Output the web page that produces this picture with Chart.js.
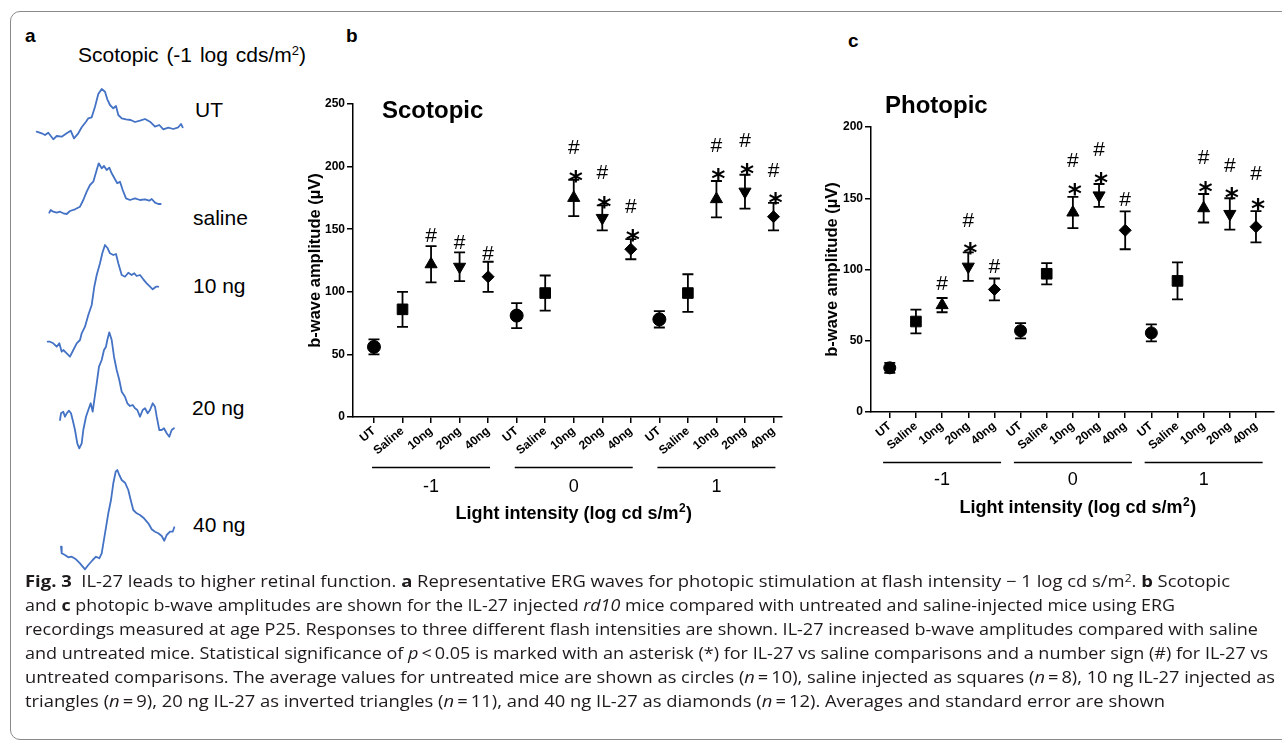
<!DOCTYPE html>
<html>
<head>
<meta charset="utf-8">
<script src="https://cdn.jsdelivr.net/npm/chart.js@4.4.1/dist/chart.umd.min.js"></script>
<style>
html,body{margin:0;padding:0;background:#fff;}
body{width:1282px;height:742px;position:relative;overflow:hidden;font-family:'Liberation Sans',Arial,sans-serif;color:#000;}
.frame{position:absolute;left:10px;top:11px;width:1300px;height:727px;border:1.5px solid #8a8a8a;border-radius:10px;}
.abs{position:absolute;white-space:nowrap;line-height:1;}
.lbl{font-size:21px;}
.pl{font-size:19px;font-weight:bold;}
.abs sup{font-size:0.62em;vertical-align:0.55em;line-height:0;}
canvas{position:absolute;}
.cap{position:absolute;left:25px;top:569px;font-family:'Open Sans',sans-serif;font-size:16px;line-height:24px;color:#1e1a1b;}
.row{height:24px;white-space:nowrap;}
.cl{display:inline-block;white-space:nowrap;transform-origin:0 0;}
.cap sup{font-size:0.65em;vertical-align:0.5em;line-height:0;}
</style>
</head>
<body>
<div class="frame"></div>

<div class="abs pl" style="left:25px;top:26px;">a</div>
<div class="abs pl" style="left:346px;top:26px;">b</div>
<div class="abs pl" style="left:848px;top:31px;">c</div>

<div class="abs lbl" style="left:78px;top:44px;word-spacing:2px;">Scotopic (-1 log cds/m<sup>2</sup>)</div>
<div class="abs lbl" style="left:195px;top:99px;">UT</div>
<div class="abs lbl" style="left:193px;top:207px;">saline</div>
<div class="abs lbl" style="left:193px;top:275px;">10 ng</div>
<div class="abs lbl" style="left:192px;top:397px;">20 ng</div>
<div class="abs lbl" style="left:193px;top:514px;">40 ng</div>

<canvas id="ergUT" width="160" height="65" style="left:30px;top:80px;"></canvas>
<canvas id="ergSaline" width="160" height="65" style="left:30px;top:155px;"></canvas>
<canvas id="erg10" width="160" height="130" style="left:30px;top:235px;"></canvas>
<canvas id="erg20" width="160" height="130" style="left:30px;top:325px;"></canvas>
<canvas id="erg40" width="160" height="115" style="left:30px;top:460px;"></canvas>

<canvas id="scot" width="490" height="445" style="left:300px;top:90px;"></canvas>
<canvas id="phot" width="464" height="445" style="left:818px;top:90px;"></canvas>

<div class="cap">
<div class="row"><span class="cl" data-w="1205"><b>Fig. 3</b>&nbsp; IL-27 leads to higher retinal function. <b>a</b> Representative ERG waves for photopic stimulation at flash intensity − 1 log cd s/m<sup>2</sup>. <b>b</b> Scotopic</span></div>
<div class="row"><span class="cl" data-w="1150">and <b>c</b> photopic b-wave amplitudes are shown for the IL-27 injected <i>rd10</i> mice compared with untreated and saline-injected mice using ERG</span></div>
<div class="row"><span class="cl" data-w="1233">recordings measured at age P25. Responses to three different flash intensities are shown. IL-27 increased b-wave amplitudes compared with saline</span></div>
<div class="row"><span class="cl" data-w="1243">and untreated mice. Statistical significance of <i>p</i>&thinsp;&lt;&thinsp;0.05 is marked with an asterisk (*) for IL-27 vs saline comparisons and a number sign (#) for IL-27 vs</span></div>
<div class="row"><span class="cl" data-w="1250">untreated comparisons. The average values for untreated mice are shown as circles (<i>n</i>&thinsp;=&thinsp;10), saline injected as squares (<i>n</i>&thinsp;=&thinsp;8), 10 ng IL-27 injected as</span></div>
<div class="row"><span class="cl" data-w="1140">triangles (<i>n</i>&thinsp;=&thinsp;9), 20 ng IL-27 as inverted triangles (<i>n</i>&thinsp;=&thinsp;11), and 40 ng IL-27 as diamonds (<i>n</i>&thinsp;=&thinsp;12). Averages and standard error are shown</span></div>
</div>

<script>
// ---------- DATA ----------
const categories = ['UT','Saline','10ng','20ng','40ng','UT','Saline','10ng','20ng','40ng','UT','Saline','10ng','20ng','40ng'];
const intensityLabels = ['-1','0','1'];

const scotopicMean = [56,86,122,120,112, 81,99,175,159,134, 78,99,174,180,160];
const scotopicSE   = [6,14,14.5,11.5,12, 10,14,14.5,10,8, 6.5,15,14.5,13.5,11];
const scotopicHash = [null,null,146,140,131, null,null,216,196,169, null,null,218,222,198];
const scotopicStar = [null,null,null,null,null, null,null,193,173,146, null,null,195,199,176];

const photopicMean = [31,63.5,75,102,86, 57,97,140,152,127.5, 55.5,92,143,139,130];
const photopicSE   = [3.5,8.3,5,10,7.7, 5.3,7.5,11,8,13.3, 6,13,10,11,11];
const photopicHash = [null,null,91,135,103, null,null,177,185,150, null,null,179,174,168];
const photopicStar = [null,null,null,116,null, null,null,157,165,null, null,null,159,154.5,147];

// ERG traces (time, amplitude)
const utTime = [6.7,11.7,15,18.3,23.3,26.7,31.7,36.7,40.7,44,48.3,51.7,56,58.3,61.7,65,68.3,71.7,75,77.3,80,83.3,86,88.3,91.7,96,100.7,105,110,115,120,125,129.3,133.3,138.3,143.3,148.3,151,152.7];
const utAmp  = [13.3,11.7,10,12.3,5.7,9,8.3,11.7,14.3,6.7,11.7,17.7,23.3,26.7,27.7,38.3,51,56,53.3,45.7,40,36.7,39,30,26.7,25.7,25,23,24.3,26,23.3,18.3,20,15.7,17.3,16,17.7,21,17.7];
const salineTime = [19.3,20.7,23.3,26.7,30,33.3,36.7,40,45,50,53.3,56.7,60,63.3,66.7,68.7,71.7,74,76.7,79.3,81.7,85,87.3,90,92.7,96,100,105,110,115,119.3,121.7,125,128.3,130.7];
const salineAmp  = [7.3,10,8.3,7.3,8.3,6.7,6,9,10.7,13.3,20,28.3,35,38.3,50,56.7,51.7,54,50,52.3,46.7,40.7,36.7,38.3,30,21.7,20,21.7,20,20.7,19.3,21,17.3,16,16];
const ng10Time = [17.7,20,23.3,26.7,29.3,31.7,33.3,36.7,40,43.3,46.7,50,51.7,55,58.3,61.7,64.3,66.7,70,72.3,75,77.7,80,83.3,86,88.3,91.7,95,98.3,101.7,104.3,106.7,110,113.3,116.7,120,122.7,126,128.3];
const ng10Amp  = [23.3,23.3,21.7,18.3,21.7,13.3,15,11.7,8.3,15,21.7,25,31.7,38.3,50,60,78.3,90,101.7,111.7,120,116.7,111.7,110,111,101.7,90,88.3,92.3,90,91.7,89,90,85.7,81.7,78.3,75.7,78.3,78.3];
const ng20Time = [30,31,33.3,35,36.7,39,41,42.7,45,47.3,49.3,51.7,53.3,56,58.3,60.7,62.7,64.3,66.7,69,71.7,74,76,77.3,79.3,81.7,84,86.7,89.3,91.7,95,97.3,100,102.7,105,107.3,110,112.7,115,117.7,120,122.7,125,126.7,129.3,131.7,134,136.7,139.3,141.7,144];
const ng20Amp  = [35,41.7,43.3,38.3,41.7,44.3,41.7,35,25,11.7,6.7,11.7,25,38.3,45,51.7,43.3,55,71.7,88.3,95,105,108.3,115,122.7,115,98.3,85,75,63.3,58.3,51.7,49,50,46.7,45,38.3,45,46.7,41.7,45,51.7,48.3,38.3,25,25,26.7,21.7,18.3,25,26.7];
const ng40Time = [31,31.7,35,38.3,41.7,46,50,55,58.3,62.7,66,69.3,71.7,75,78.3,81,83.3,85.7,87.3,89.3,91.7,95,98.3,100.7,103.3,106.7,110,114,118.3,121.7,125,128.3,131.7,134.3,136.7,140,142.7,144.3];
const ng40Amp  = [28.3,21.7,20,17.7,18.3,15.7,11.7,5.7,10,15,18.3,16.7,21.7,41.7,61.7,75,91.7,103.3,105,100,95,92.3,85,75,65,61.7,60,56.7,51.7,45.7,43.3,41.7,39,34.3,40,43.3,43.3,47.7];

// ---------- SETUP ----------
const FONT = "'Liberation Sans', Arial, sans-serif";
Chart.defaults.font.family = FONT;
Chart.defaults.color = '#000';

function traceChart(id, times, amps, height) {
  new Chart(document.getElementById(id), {
    type: 'scatter',
    data: { datasets: [{ data: times.map((t, i) => ({ x: t, y: amps[i] })), showLine: true,
      borderColor: '#4472c4', borderWidth: 1.8, pointRadius: 0, tension: 0,
      borderJoinStyle: 'round', borderCapStyle: 'round' }] },
    options: {
      responsive: false, animation: false, events: [],
      layout: { padding: 0 },
      scales: { x: { type: 'linear', display: false, min: 0, max: 160 },
                y: { type: 'linear', display: false, min: 0, max: height } },
      plugins: { legend: { display: false }, tooltip: { enabled: false } }
    }
  });
}
traceChart('ergUT', utTime, utAmp, 65);
traceChart('ergSaline', salineTime, salineAmp, 65);
traceChart('erg10', ng10Time, ng10Amp, 130);
traceChart('erg20', ng20Time, ng20Amp, 130);
traceChart('erg40', ng40Time, ng40Amp, 115);

const markerStyle = ['circle', 'rect', 'triangle', 'triangle', 'rectRot'];
const markerRot = [0, 0, 0, 180, 0];

function panelChart(id, p) {
  const plugin = {
    id: 'panelExtras',
    beforeDatasetsDraw(chart) {
      const { ctx, scales: { x, y } } = chart;
      ctx.save();
      ctx.strokeStyle = '#000'; ctx.lineWidth = 1.8;
      p.mean.forEach((m, i) => {
        const px = x.getPixelForValue(i);
        const t = y.getPixelForValue(m + p.err[i]);
        const b = y.getPixelForValue(m - p.err[i]);
        ctx.beginPath();
        ctx.moveTo(px, t); ctx.lineTo(px, b);
        ctx.moveTo(px - 5.5, t); ctx.lineTo(px + 5.5, t);
        ctx.moveTo(px - 5.5, b); ctx.lineTo(px + 5.5, b);
        ctx.stroke();
      });
      ctx.restore();
    },
    afterDraw(chart) {
      const { ctx, chartArea: ca, scales: { x, y } } = chart;
      ctx.save();
      ctx.fillStyle = '#000';
      ctx.textAlign = 'center'; ctx.textBaseline = 'alphabetic';
      p.hash.forEach((h, i) => {
        if (h == null) return;
        ctx.font = "21px " + FONT;
        ctx.fillText('#', x.getPixelForValue(i), y.getPixelForValue(h) + 0.355 * 21);
      });
      p.star.forEach((s, i) => {
        if (s == null) return;
        ctx.font = "bold 27px 'DejaVu Sans', sans-serif";
        ctx.fillText('*', x.getPixelForValue(i) + 2, y.getPixelForValue(s) + 0.56 * 27);
      });
      ctx.textAlign = 'left';
      ctx.font = "bold 24px " + FONT;
      ctx.fillText(p.title, ca.left + p.titleDx, ca.top + p.titleDy);
      ctx.save();
      ctx.translate(ca.left - p.yTitleDx, (ca.top + ca.bottom) / 2);
      ctx.rotate(-Math.PI / 2);
      ctx.textAlign = 'center'; ctx.textBaseline = 'middle';
      ctx.font = "bold 16.5px " + FONT;
      ctx.fillText('b-wave amplitude (µV)', 0, 0);
      ctx.restore();
      ctx.strokeStyle = '#000'; ctx.lineWidth = 1.5;
      const centers = intensityLabels.map((lab, g) => (x.getPixelForValue(g * 5) + x.getPixelForValue(g * 5 + 4)) / 2);
      intensityLabels.forEach((lab, g) => {
        const c = centers[g];
        const ly = Math.round(ca.bottom + p.lineDy) + 0.5;
        ctx.beginPath(); ctx.moveTo(c - 59, ly); ctx.lineTo(c + 59, ly); ctx.stroke();
        ctx.textAlign = 'center'; ctx.textBaseline = 'middle';
        ctx.font = "18px " + FONT;
        ctx.fillText(lab, c, ca.bottom + p.labDy);
      });
      // x title with superscript
      const main = 'Light intensity (log cd s/m', sup = '2', tail = ')';
      ctx.textBaseline = 'alphabetic'; ctx.textAlign = 'left';
      ctx.font = "bold 18px " + FONT;
      const wMain = ctx.measureText(main).width, wTail = ctx.measureText(tail).width;
      ctx.font = "bold 12px " + FONT;
      const wSup = ctx.measureText(sup).width;
      const total = wMain + wSup + wTail + 1;
      let tx = (centers[0] + centers[2]) / 2 + p.xTitleDx - total / 2;
      const by = ca.bottom + p.xTitleDy + 6.5;
      ctx.font = "bold 18px " + FONT;
      ctx.fillText(main, tx, by);
      ctx.font = "bold 12px " + FONT;
      ctx.fillText(sup, tx + wMain + 0.5, by - 7);
      ctx.font = "bold 18px " + FONT;
      ctx.fillText(tail, tx + wMain + wSup + 1, by);
      ctx.restore();
    }
  };

  new Chart(document.getElementById(id), {
    type: 'scatter',
    data: { datasets: [{
      data: p.mean.map((v, i) => ({ x: i, y: v })),
      pointStyle: p.mean.map((_, i) => markerStyle[i % 5]),
      pointRotation: p.mean.map((_, i) => markerRot[i % 5]),
      pointRadius: p.mean.map((_, i) => p.radii[i % 5]),
      backgroundColor: '#000', borderColor: '#000', borderWidth: 1, showLine: false
    }] },
    options: {
      responsive: false, animation: false, events: [],
      layout: { padding: p.padding },
      scales: {
        x: {
          type: 'linear', min: p.xMin, max: p.xMax,
          afterBuildTicks: (s) => { s.ticks = categories.map((_, i) => ({ value: i })); },
          afterFit: (s) => { s.height = p.xHeight; },
          ticks: { autoSkip: false, minRotation: 40, maxRotation: 40, padding: 1,
                   font: { size: 12, weight: 'bold' }, color: '#000',
                   callback: (v) => categories[v] },
          grid: { drawOnChartArea: false, drawTicks: true, tickLength: 6, color: '#000', lineWidth: 1.5 },
          border: { display: true, color: '#000', width: 1.5 }
        },
        y: {
          type: 'linear', min: 0, max: p.yMax,
          afterFit: (s) => { s.width = 53; },
          ticks: { stepSize: 50, padding: 2, font: { size: 12, weight: 'bold' }, color: '#000' },
          grid: { drawOnChartArea: false, drawTicks: true, tickLength: 6, color: '#000', lineWidth: 1.5 },
          border: { display: true, color: '#000', width: 1.5 }
        }
      },
      plugins: { legend: { display: false }, tooltip: { enabled: false } }
    },
    plugins: [plugin]
  });
}

panelChart('scot', {
  mean: scotopicMean, err: scotopicSE, hash: scotopicHash, star: scotopicStar,
  yMax: 250, xMin: -0.735, xMax: 14.28,
  padding: { top: 14, right: 8, left: 0, bottom: 0 }, xHeight: 118,
  radii: [6.5, 7.5, 7, 7, 6],
  title: 'Scotopic', titleDx: 29, titleDy: 14,
  yTitleDx: 38, lineDy: 50, labDy: 70, xTitleDy: 95, xTitleDx: 0
});
panelChart('phot', {
  mean: photopicMean, err: photopicSE, hash: photopicHash, star: photopicStar,
  yMax: 200, xMin: -0.718, xMax: 14.67,
  padding: { top: 37, right: 4, left: 0, bottom: 0 }, xHeight: 123,
  radii: [6, 7.5, 7, 7, 6],
  title: 'Photopic', titleDx: 14, titleDy: -14,
  yTitleDx: 39, lineDy: 50, labDy: 68, xTitleDy: 94, xTitleDx: 5
});

function fitCaption() {
  document.querySelectorAll('.cl').forEach(el => {
    el.style.transform = 'none';
    const w = el.getBoundingClientRect().width;
    el.style.transform = 'scaleX(' + (Number(el.dataset.w) / w) + ')';
  });
}
fitCaption();
if (document.fonts && document.fonts.ready) document.fonts.ready.then(fitCaption);
</script>
</body>
</html>
